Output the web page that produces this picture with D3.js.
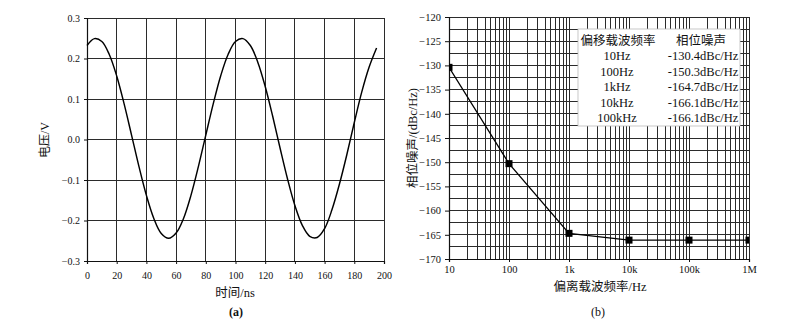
<!DOCTYPE html>
<html>
<head>
<meta charset="utf-8">
<script src="https://cdn.jsdelivr.net/npm/d3@7/dist/d3.min.js"></script>
<style>
  html, body { margin: 0; padding: 0; background: #fff; }
  svg { display: block; }
  text { font-family: "Liberation Serif", "Noto Sans CJK SC", serif; fill: #111; }
  .grid line { shape-rendering: crispEdges; }
</style>
</head>
<body>
<svg id="fig" width="794" height="326"></svg>
<script>
// (a) output voltage waveform, sampled every 5 ns
const timeNs = [0,5,10,15,20,25,30,35,40,45,50,55,60,65,70,75,80,85,90,95,
                100,105,110,115,120,125,130,135,140,145,150,155,160,165,170,175,180,185,190,195];
const voltageV = [0.232,0.249,0.242,0.210,0.157,0.088,0.011,-0.067,-0.138,-0.195,
                  -0.232,-0.244,-0.231,-0.195,-0.138,-0.067,0.011,0.088,0.157,0.210,
                  0.242,0.249,0.232,0.191,0.131,0.058,-0.021,-0.097,-0.163,-0.212,
                  -0.239,-0.242,-0.220,-0.173,-0.110,-0.037,0.042,0.117,0.179,0.226];
const timeTicks = [0,20,40,60,80,100,120,140,160,180,200];
const voltTicks = [-0.3,-0.2,-0.1,0.0,0.1,0.2,0.3];

// (b) phase noise versus offset frequency
const offsetHz = [10,100,1e3,1e4,1e5,1e6];
const offsetLabels = ["10","100","1k","10k","100k","1M"];
const phaseNoise = [-130.4,-150.3,-164.7,-166.1,-166.1,-166.1];
const noiseTicks = [-170,-165,-160,-155,-150,-145,-140,-135,-130,-125,-120];
const tableHead = ["偏移载波频率","相位噪声"];
const tableFreq = ["10Hz","100Hz","1kHz","10kHz","100kHz"];
const tableNoise = ["-130.4dBc/Hz","-150.3dBc/Hz","-164.7dBc/Hz","-166.1dBc/Hz","-166.1dBc/Hz"];

const svg = d3.select("#fig");
const gridColor = "#2b2b2b";
const serif = '"Liberation Serif", serif';

function styleAxis(a, size) {
  a.attr("font-family", null);
  a.select(".domain").attr("stroke", "#111").attr("stroke-width", 1.2);
  a.selectAll(".tick line").attr("stroke", "#111");
  a.selectAll("text").attr("font-size", size).attr("fill", "#111").style("font-family", serif);
}

// ---------- panel (a) ----------
{
  const x = d3.scaleLinear().domain([0,200]).range([87,384]);
  const y = d3.scaleLinear().domain([-0.3,0.3]).range([261,18]);
  const g = svg.append("g");

  g.append("g").attr("class", "grid").selectAll("line").data(timeTicks).join("line")
    .attr("x1", d => x(d)).attr("x2", d => x(d))
    .attr("y1", y(-0.3)).attr("y2", y(0.3))
    .attr("stroke", gridColor).attr("stroke-width", 1);
  g.append("g").attr("class", "grid").selectAll("line").data(voltTicks).join("line")
    .attr("x1", x(0)).attr("x2", x(200))
    .attr("y1", d => y(d)).attr("y2", d => y(d))
    .attr("stroke", gridColor).attr("stroke-width", 1);

  const ax = g.append("g").attr("transform", `translate(0,${y(-0.3)})`)
    .call(d3.axisBottom(x).tickValues(timeTicks).tickSize(3).tickPadding(8).tickFormat(d3.format("d")));
  const ay = g.append("g").attr("transform", `translate(${x(0)},0)`)
    .call(d3.axisLeft(y).tickValues(voltTicks).tickSize(3).tickPadding(4).tickFormat(d3.format(".1f")));
  styleAxis(ax, 10);
  styleAxis(ay, 10);

  const line = d3.line().x((d,i) => x(timeNs[i])).y(d => y(d)).curve(d3.curveCatmullRom);
  g.append("path").datum(voltageV).attr("d", line)
    .attr("fill", "none").attr("stroke", "#000").attr("stroke-width", 1.45);

  g.append("text").attr("x", 235).attr("y", 297).attr("text-anchor", "middle")
    .attr("font-size", 12.5).text("时间/ns");
  g.append("text").attr("transform", "translate(49,140) rotate(-90)").attr("text-anchor", "middle")
    .attr("font-size", 12).text("电压/V");
  g.append("text").attr("x", 236).attr("y", 316).attr("text-anchor", "middle")
    .attr("font-size", 12).attr("font-weight", "bold").text("(a)");
}

// ---------- panel (b) ----------
{
  const x = d3.scaleLog().domain([10,1e6]).range([449,749]);
  const y = d3.scaleLinear().domain([-170,-120]).range([259,17]);
  const g = svg.append("g");

  // log grid: every integer multiple within each decade
  const vGrid = [];
  for (let e = 1; e < 6; e++) for (let m = 1; m < 10; m++) vGrid.push(m * Math.pow(10, e));
  vGrid.push(1e6);
  const hGrid = d3.range(-170, -119.9, 2.5);

  g.append("g").attr("class", "grid").selectAll("line").data(vGrid).join("line")
    .attr("x1", d => x(d)).attr("x2", d => x(d))
    .attr("y1", y(-170)).attr("y2", y(-120))
    .attr("stroke", gridColor).attr("stroke-width", 1);
  g.append("g").attr("class", "grid").selectAll("line").data(hGrid).join("line")
    .attr("x1", x(10)).attr("x2", x(1e6))
    .attr("y1", d => y(d)).attr("y2", d => y(d))
    .attr("stroke", gridColor).attr("stroke-width", 1);

  const ax = g.append("g").attr("transform", `translate(0,${y(-170)})`)
    .call(d3.axisBottom(x).tickValues(offsetHz).tickSize(3).tickPadding(4)
      .tickFormat((d,i) => offsetLabels[i]));
  const ay = g.append("g").attr("transform", `translate(${x(10)},0)`)
    .call(d3.axisLeft(y).tickValues(noiseTicks).tickSize(4).tickPadding(4).tickFormat(d3.format("d")));
  styleAxis(ax, 10.5);
  styleAxis(ay, 10.5);

  // summary table
  const tb = g.append("g");
  tb.append("rect").attr("x", 578).attr("y", 29).attr("width", 162).attr("height", 97)
    .attr("fill", "#fff").attr("stroke", "#bbb").attr("stroke-width", 0.8);
  tb.append("text").attr("x", 618).attr("y", 44.5).attr("text-anchor", "middle")
    .attr("font-size", 12.5).text(tableHead[0]);
  tb.append("text").attr("x", 701).attr("y", 44.5).attr("text-anchor", "middle")
    .attr("font-size", 12.5).text(tableHead[1]);
  tb.selectAll("text.f").data(tableFreq).join("text").attr("class", "f")
    .attr("x", 617).attr("y", (d,i) => 60 + i * 15.6).attr("text-anchor", "middle")
    .attr("font-size", 12.5).text(d => d);
  tb.selectAll("text.n").data(tableNoise).join("text").attr("class", "n")
    .attr("x", 703).attr("y", (d,i) => 60 + i * 15.6).attr("text-anchor", "middle")
    .attr("font-size", 12.5).text(d => d);

  svg.append("defs").append("clipPath").attr("id", "plotB")
    .append("rect").attr("x", 449).attr("y", 17).attr("width", 300).attr("height", 242);

  const line = d3.line().x((d,i) => x(offsetHz[i])).y(d => y(d));
  const marks = g.append("g").attr("clip-path", "url(#plotB)");
  marks.append("path").datum(phaseNoise).attr("d", line)
    .attr("fill", "none").attr("stroke", "#000").attr("stroke-width", 1.3);
  marks.selectAll("rect").data(phaseNoise).join("rect")
    .attr("x", (d,i) => x(offsetHz[i]) - 3.5).attr("y", d => y(d) - 3.5)
    .attr("width", 7).attr("height", 7).attr("fill", "#000");

  g.append("text").attr("x", 600).attr("y", 291).attr("text-anchor", "middle")
    .attr("font-size", 12.5).text("偏离载波频率/Hz");
  g.append("text").attr("transform", "translate(417,138) rotate(-90)").attr("text-anchor", "middle")
    .attr("font-size", 12.5).text("相位噪声/(dBc/Hz)");
  g.append("text").attr("x", 598).attr("y", 316).attr("text-anchor", "middle")
    .attr("font-size", 12).text("(b)");
}
</script>
</body>
</html>
